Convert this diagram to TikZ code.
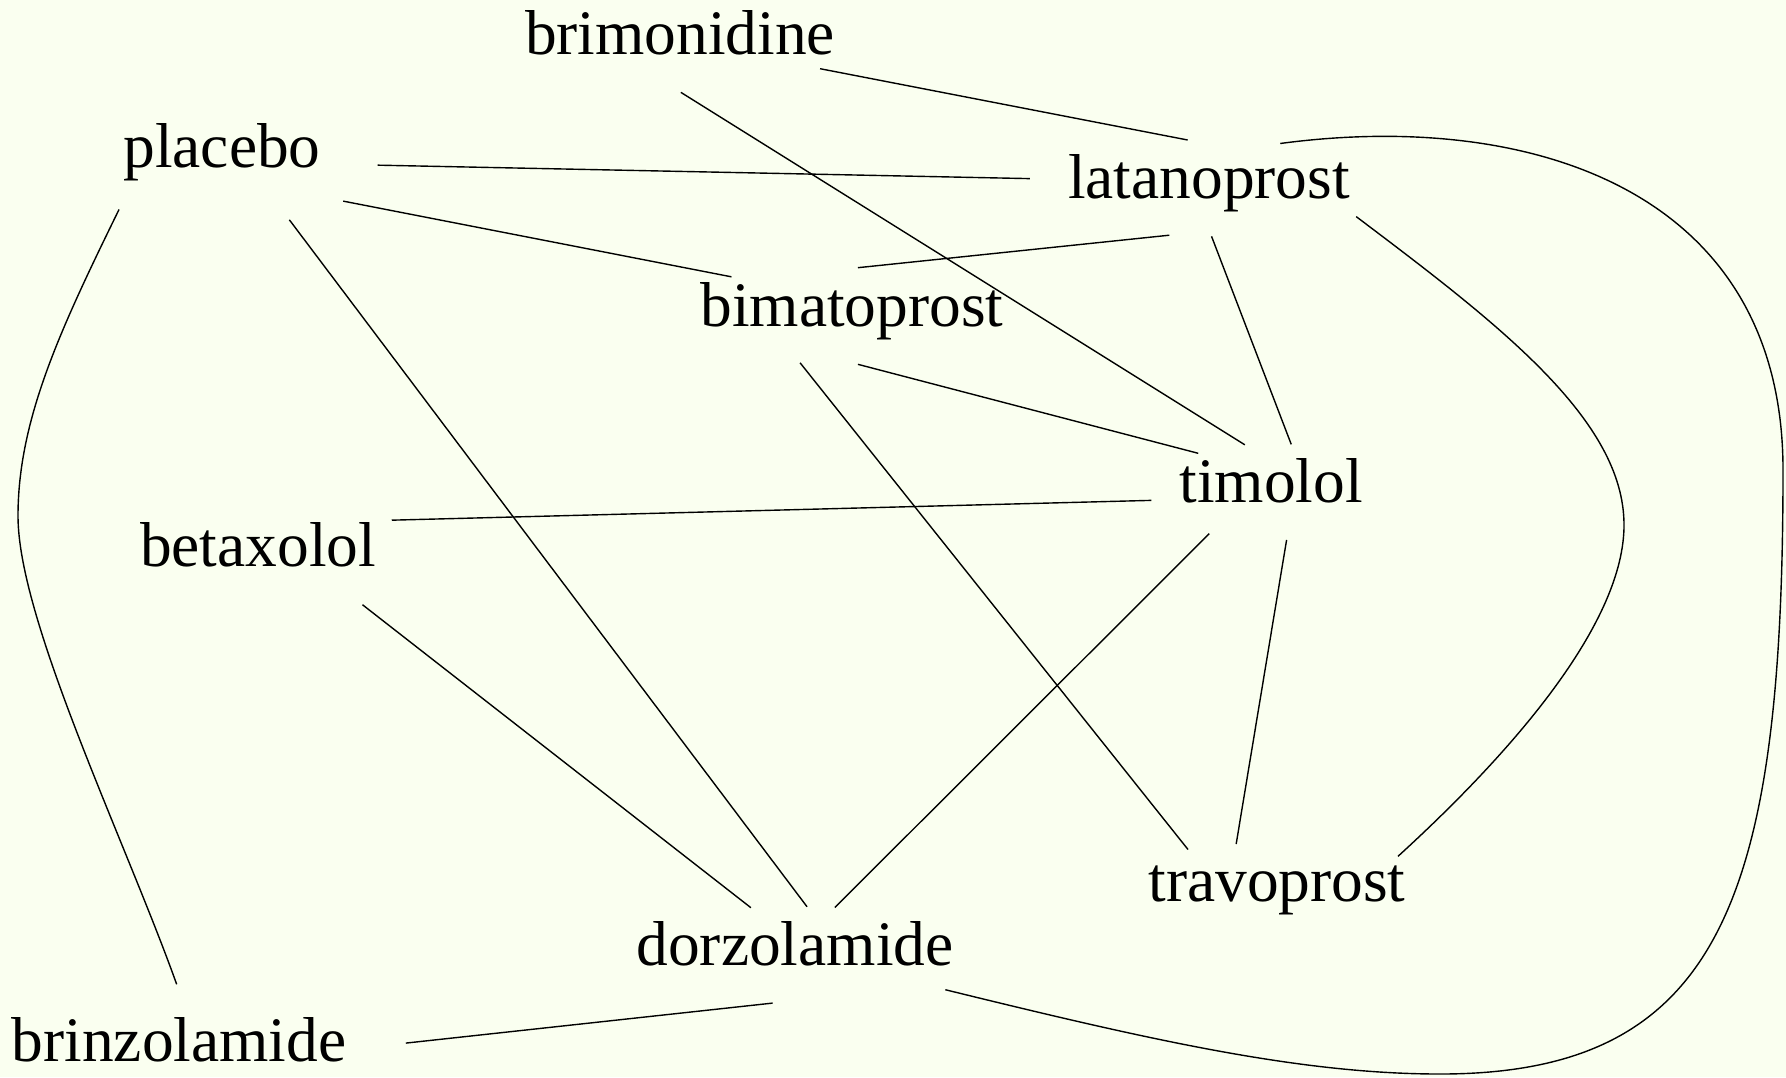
\documentclass[tikz,border=0pt]{standalone}
\usepackage{fontspec}
\setmainfont{Liberation Serif}
\usetikzlibrary{shapes.geometric}
\definecolor{paper}{RGB}{250,255,240}
\begin{document}
\begin{tikzpicture}[x=0.5pt,y=-0.5pt,
  drug/.style={ellipse,inner xsep=-3pt,inner ysep=0.5pt,text height=21.9pt,text depth=11pt,
    font=\fontsize{31.7pt}{38pt}\selectfont},
  link/.style={line width=0.7pt}]
\useasboundingbox[fill=paper] (0,0) rectangle (1786,1077);
\node[drug,inner xsep=-20pt] (brim) at (680,44) {brimonidine};
\node[drug,inner xsep=6pt,inner ysep=8pt] (plac) at (222,157) {placebo};
\node[drug,inner xsep=-6pt] (latan) at (1209,188) {latanoprost};
\node[drug] (bimat) at (852,316) {bimatoprost};
\node[drug] (timo) at (1271,492) {timolol};
\node[drug,inner xsep=-2pt,inner ysep=6pt] (betax) at (258,556) {betaxolol};
\node[drug] (travo) at (1277,891) {travoprost};
\node[drug] (dorz) at (795,955) {dorzolamide};
\node[drug,inner ysep=7pt] (brinz) at (179,1051) {brinzolamide};
% straight links
\draw[link] (brim.-10) -- (latan.114);
\draw[link] (brim.-89) -- (timo.119);
\draw[link] (plac.-3) -- (latan.177);
\draw[link] (plac.-20) -- (bimat.162);
\draw[link] (plac.-43) -- (dorz.76);
\draw[link] (latan.230) -- (bimat.83);
\draw[link] (latan.-87) -- (timo.67);
\draw[link] (bimat.-83) -- (timo.152);
\draw[link] (bimat.222) -- (travo.155);
\draw[link] (timo.184) -- (betax.15);
\draw[link] (timo.214) -- (dorz.50);
\draw[link] (timo.-72) -- (travo.131);
\draw[link] (betax.-25) -- (dorz.133);
\draw[link] (dorz.245) -- (brinz.2);
% curved links
\draw[link] (plac.207) .. controls (60,330) and (18,420) .. (18,516)
  .. controls (18,620) and (125,840) .. (brinz.92);
\draw[link] (latan.-11) .. controls (1500,325) and (1624,420) .. (1624,525)
  .. controls (1624,620) and (1520,745) .. (travo.16);
\draw[link] (latan.32) .. controls (1530,110) and (1783,190) .. (1783,470)
  .. controls (1783,900) and (1720,1074) .. (1440,1074)
  .. controls (1300,1074) and (1150,1040) .. (dorz.-13);
\end{tikzpicture}
\end{document}
